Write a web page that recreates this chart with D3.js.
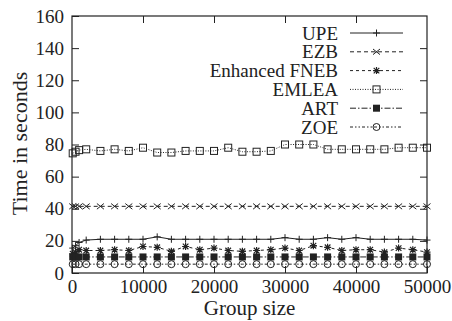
<!DOCTYPE html>
<html>
<head>
<meta charset="utf-8">
<script src="https://cdn.jsdelivr.net/npm/d3@7"></script>
<style>
  html, body { margin: 0; padding: 0; background: #fff; }
  svg { display: block; }
</style>
</head>
<body>
<svg id="chart" width="452" height="321"></svg>
<script>
// Group sizes along the x axis
const groupSizes = [100, 500, 1000, 2000, 4000, 6000, 8000, 10000, 12000, 14000, 16000, 18000,
  20000, 22000, 24000, 26000, 28000, 30000, 32000, 34000, 36000, 38000, 40000, 42000,
  44000, 46000, 48000, 50000];

// Time in seconds per protocol
const upe = [15.5, 17, 19, 20.5, 21, 21, 21, 21, 22.5, 21, 21, 21, 21, 21, 21, 21, 21,
  22, 21, 21, 22, 21, 22, 21, 21, 21, 21, 20.5];
const ezb = [41.5, 41.5, 41.5, 41.5, 41.5, 41.5, 41.5, 41.5, 41.5, 41.5, 41.5, 41.5, 41.5, 41.5,
  41.5, 41.5, 41.5, 41.5, 41.5, 41.5, 41.5, 41.5, 41.5, 41.5, 41.5, 41.5, 41.5, 41.5];
const fneb = [12, 13, 14.5, 14, 14, 14.5, 14, 16.5, 16, 13.5, 16.5, 14.5, 15.5, 14, 13.5, 14,
  14.5, 15.5, 14, 17, 16, 14, 14.5, 14.5, 13, 15.5, 14.5, 13];
const emlea = [74.5, 75.5, 76.5, 77, 76, 77, 76, 78, 75, 75, 76, 76, 76, 78, 75.5, 75.5, 76,
  80, 80, 80, 77, 77, 77, 77, 77, 78, 78, 78];
const art = [10, 10, 10, 10, 10, 10, 10, 10, 10, 10, 10, 10, 10, 10, 10, 10, 10, 10, 10, 10,
  10, 10, 10, 10, 10, 10, 10, 10];
const zoe = [5.5, 5.5, 5.5, 5.5, 5.5, 5.5, 5.5, 5.5, 5.5, 5.5, 5.5, 5.5, 5.5, 5.5, 5.5, 5.5,
  5.5, 5.5, 5.5, 5.5, 5.5, 5.5, 5.5, 5.5, 5.5, 5.5, 5.5, 5.5];

const seriesNames = ["UPE", "EZB", "Enhanced FNEB", "EMLEA", "ART", "ZOE"];
const xTicks = [0, 10000, 20000, 30000, 40000, 50000];
const yTicks = [0, 20, 40, 60, 80, 100, 120, 140, 160];

const series = [
  { name: seriesNames[0], values: upe,   dash: null,              marker: "plus" },
  { name: seriesNames[1], values: ezb,   dash: "4,3",             marker: "cross" },
  { name: seriesNames[2], values: fneb,  dash: "3,3",             marker: "star" },
  { name: seriesNames[3], values: emlea, dash: "1,1.5",           marker: "square" },
  { name: seriesNames[4], values: art,   dash: "6,2,1.5,2",       marker: "fsquare" },
  { name: seriesNames[5], values: zoe,   dash: "3,2,1.5,2,1.5,2", marker: "circle" }
];

const serif = "'Liberation Serif', 'Times New Roman', serif";
const svg = d3.select("#chart");
const m = { left: 72, right: 427, top: 16, bottom: 273 };
const x = d3.scaleLinear().domain([0, 50000]).range([m.left, m.right]);
const y = d3.scaleLinear().domain([0, 160]).range([m.bottom, m.top]);
const ink = "#222";
const tickLen = 7;

// Axes: ticks point inward and are mirrored on the opposite sides
const gx = svg.append("g").attr("transform", `translate(0,${m.bottom})`)
  .call(d3.axisBottom(x).tickValues(xTicks).tickFormat(d3.format("d")).tickSize(-tickLen).tickPadding(7));
const gy = svg.append("g").attr("transform", `translate(${m.left},0)`)
  .call(d3.axisLeft(y).tickValues(yTicks).tickSize(-tickLen).tickPadding(8));
const gxTop = svg.append("g").attr("transform", `translate(0,${m.top})`)
  .call(d3.axisTop(x).tickValues(xTicks.slice(1, -1)).tickSize(-tickLen).tickFormat(""));
const gyRight = svg.append("g").attr("transform", `translate(${m.right},0)`)
  .call(d3.axisRight(y).tickValues(yTicks.slice(1, -1)).tickSize(-tickLen).tickFormat(""));

[gx, gy, gxTop, gyRight].forEach(g => {
  g.attr("font-family", serif).attr("font-size", 19);
  g.select(".domain").remove();
  g.selectAll(".tick line").attr("stroke", ink).attr("stroke-width", 1);
  g.selectAll(".tick text").attr("fill", ink);
});
gx.selectAll(".tick text").attr("dy", "0.71em");

// Frame
svg.append("rect")
  .attr("x", m.left).attr("y", m.top)
  .attr("width", m.right - m.left).attr("height", m.bottom - m.top)
  .attr("fill", "none").attr("stroke", ink).attr("stroke-width", 1.2);

// Axis titles
svg.append("text")
  .attr("x", (m.left + m.right) / 2).attr("y", 315)
  .attr("text-anchor", "middle").attr("font-family", serif).attr("font-size", 21)
  .attr("fill", ink).text("Group size");
svg.append("text")
  .attr("transform", `translate(27,${(m.top + m.bottom) / 2 - 1}) rotate(-90)`)
  .attr("text-anchor", "middle").attr("font-family", serif).attr("font-size", 22)
  .attr("fill", ink).text("Time in seconds");

// Marker drawing
function drawMarker(g, type, cx, cy) {
  const s = 3.5;
  if (type === "plus") {
    g.append("path").attr("d", `M${cx - s},${cy}H${cx + s}M${cx},${cy - s}V${cy + s}`)
      .attr("stroke", ink).attr("stroke-width", 1).attr("fill", "none");
  } else if (type === "cross") {
    g.append("path").attr("d", `M${cx - s},${cy - s * 0.8}L${cx + s},${cy + s * 0.8}M${cx - s},${cy + s * 0.8}L${cx + s},${cy - s * 0.8}`)
      .attr("stroke", ink).attr("stroke-width", 1).attr("fill", "none");
  } else if (type === "star") {
    g.append("path").attr("d", `M${cx - s},${cy}H${cx + s}M${cx},${cy - s}V${cy + s}M${cx - s * 0.8},${cy - s * 0.8}L${cx + s * 0.8},${cy + s * 0.8}M${cx - s * 0.8},${cy + s * 0.8}L${cx + s * 0.8},${cy - s * 0.8}`)
      .attr("stroke", ink).attr("stroke-width", 1.2).attr("fill", "none");
  } else if (type === "square") {
    g.append("rect").attr("x", cx - s).attr("y", cy - s).attr("width", 2 * s).attr("height", 2 * s)
      .attr("stroke", ink).attr("stroke-width", 1).attr("fill", "none");
  } else if (type === "fsquare") {
    g.append("rect").attr("x", cx - s).attr("y", cy - s).attr("width", 2 * s).attr("height", 2 * s)
      .attr("fill", ink);
  } else if (type === "circle") {
    g.append("circle").attr("cx", cx).attr("cy", cy).attr("r", s)
      .attr("stroke", ink).attr("stroke-width", 1).attr("fill", "none");
  }
}

const line = d3.line().x(d => x(d[0])).y(d => y(d[1]));
const plot = svg.append("g");
series.forEach(sr => {
  const pts = groupSizes.map((gsz, i) => [gsz, sr.values[i]]);
  plot.append("path").datum(pts).attr("d", line)
    .attr("fill", "none").attr("stroke", ink).attr("stroke-width", 1)
    .attr("stroke-dasharray", sr.dash);
  const mg = plot.append("g");
  pts.forEach(p => drawMarker(mg, sr.marker, x(p[0]), y(p[1])));
});

// Legend
const legend = svg.append("g");
series.forEach((sr, i) => {
  const ly = 33 + i * 18.8;
  legend.append("text").attr("x", 338).attr("y", ly).attr("dy", "0.35em")
    .attr("text-anchor", "end").attr("font-family", serif).attr("font-size", 19)
    .attr("fill", ink).text(sr.name);
  legend.append("path").attr("d", `M350,${ly}H403`)
    .attr("stroke", ink).attr("stroke-width", 1).attr("fill", "none")
    .attr("stroke-dasharray", sr.dash);
  drawMarker(legend, sr.marker, 376.5, ly);
});
</script>
</body>
</html>
